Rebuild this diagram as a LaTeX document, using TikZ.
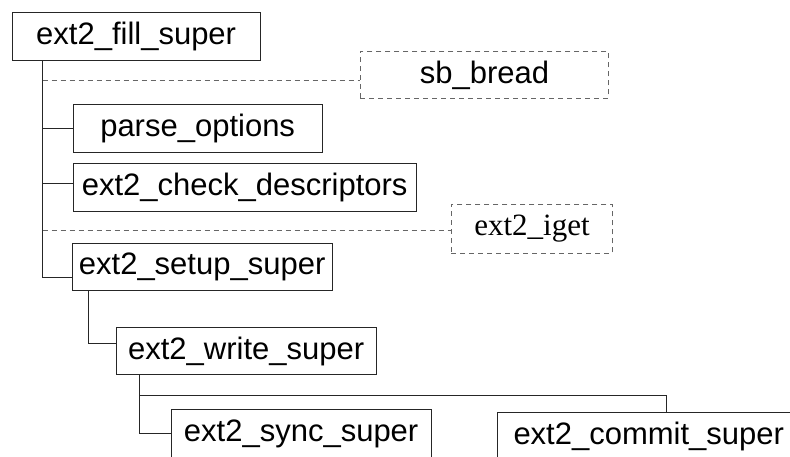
\documentclass[tikz,border=0pt]{standalone}
\usepackage{fontspec}
\setmainfont{Liberation Sans}
\newfontfamily\timesfont{Liberation Serif}

\begin{document}
\begin{tikzpicture}[
    x=1pt, y=-1pt,
    func/.style={draw=black!85, line width=0.9pt, anchor=north west, inner sep=0pt, minimum height=48pt, font=\fontsize{31}{37}\selectfont},
    extfunc/.style={func, draw=black!60, dash pattern=on 5pt off 4pt},
    wire/.style={line width=0.9pt, black!85},
    extwire/.style={wire, black!60, dash pattern=on 5pt off 4pt}
]
\path[use as bounding box, clip] (0,0) rectangle (790,456);

\node[func, minimum width=248pt] (fill) at (11.7,12.3) {ext2\_fill\_super};
\node[extfunc, minimum width=248pt, minimum height=47pt] (bread) at (360,51) {sb\_bread};
\node[func, minimum width=249pt] (parse) at (72.7,104) {parse\_options};
\node[func, minimum width=343pt, minimum height=47.7pt] (check) at (72.7,163.3) {ext2\_check\_descriptors};
\node[extfunc, minimum width=161pt, minimum height=49pt, font={\fontsize{31}{37}\timesfont}] (iget) at (451,204) {ext2\_iget};
\node[func, minimum width=260pt, minimum height=47pt] (setup) at (71.7,243.3) {ext2\_setup\_super};
\node[func, minimum width=260pt, minimum height=47pt] (write) at (115.7,327.3) {ext2\_write\_super};
\node[func, minimum width=260pt] (sync) at (170.7,409.3) {ext2\_sync\_super};
\node[func, minimum width=302pt] (commit) at (497.3,412.3) {ext2\_commit\_super};

% calls of ext2_fill_super
\coordinate (a1) at (42.7,80.7);
\coordinate (a3) at (42.7,230.7);
\draw[wire] ([xshift=31pt]fill.south west) |- ([yshift=-10.3pt]setup.west);
\draw[extwire] (a1) -- (a1 -| bread.west);
\draw[wire] (a1 |- parse.west) -- (parse.west);
\draw[wire] (a1 |- check.west) ++(0,-3.9) -- ([yshift=3.9pt]check.west);
\draw[extwire] (a3) -- (a3 -| iget.west);

% ext2_setup_super
\draw[wire] ([xshift=16.6pt]setup.south west) |- ([yshift=8pt]write.west);

% ext2_write_super
\coordinate (c1) at (139.3,395.7);
\draw[wire] ([xshift=23.6pt]write.south west) |- (sync.west);
\draw[wire] (c1) -| ([xshift=169.4pt]commit.north west);
\end{tikzpicture}
\end{document}
